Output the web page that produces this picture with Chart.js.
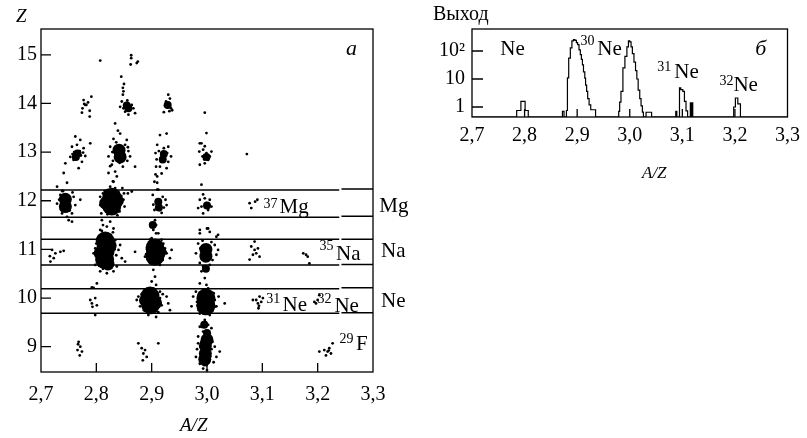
<!DOCTYPE html>
<html>
<head>
<meta charset="utf-8">
<script src="https://cdn.jsdelivr.net/npm/chart.js@4.4.0/dist/chart.umd.min.js"></script>
<style>
  html, body { margin: 0; padding: 0; background: #fff; }
  #wrap { position: relative; width: 807px; height: 438px; }
  #left { position: absolute; left: 0; top: 0; }
  #right { position: absolute; left: 420px; top: 0; }
</style>
</head>
<body>
<div id="wrap">
  <canvas id="left" width="420" height="438"></canvas>
  <canvas id="right" width="387" height="186"></canvas>
</div>
<script>
// ---- data ----
const xTicks = [2.7, 2.8, 2.9, 3.0, 3.1, 3.2, 3.3];
const zTicks = [9, 10, 11, 12, 13, 14, 15];
const yieldTicks = [1, 10, 100];
const elements = ['Mg', 'Na', 'Ne'];

// Z bands (lower / upper edge) for Mg, Na, Ne
const bandUpperZ = [12.22, 11.21, 10.19];
const bandLowerZ = [11.66, 10.68, 9.69];
const bandUpperZRight = [12.24, 11.21, 10.21];
const bandLowerZRight = [11.68, 10.69, 9.70];

// dense cluster cores [A/Z, Z]
const coresLarge = [[2.816,11.17],[2.816,10.97],[2.815,10.79],[2.828,12.07],[2.828,11.89],
  [2.906,11.03],[2.906,10.86],[2.897,10.04],[2.898,9.86],[2.998,10.0],[2.998,9.84]];
const coresMid = [[2.807,10.92],[2.825,11.08],[2.744,12.03],[2.744,11.88],[2.841,13.04],[2.843,12.9],
  [2.998,11.0],[2.998,10.86],[2.997,9.02],[2.997,8.86],[2.996,8.74],[3.0,9.14],[2.838,12.0],
  [2.817,11.95],[2.889,9.95],[2.907,9.9],[2.915,10.95],[2.821,10.7]];
const coresSmall = [[2.922,12.96],[2.920,12.85],[2.912,11.98],[2.913,11.86],[2.766,12.97],[2.763,12.9],
  [2.855,13.96],[2.858,13.9],[3.0,11.9],[2.999,12.9],[3.0,9.28],[2.929,13.97],[2.998,10.6],
  [2.902,11.5],[2.995,9.45]];

// single events [A/Z, Z]
const dotsZ14 = [[2.807,14.88],[2.863,14.99],[2.863,14.93],[2.862,14.80],[2.873,14.83],[2.875,14.86],
  [2.777,14.07],[2.780,13.97],[2.775,13.90],[2.774,13.81],[2.788,13.85],[2.788,13.73],[2.791,14.14],
  [2.782,13.97],[2.778,13.99],[2.785,14.02],
  [2.850,14.40],[2.849,14.25],[2.848,14.18],[2.846,14.04],[2.856,14.06],[2.864,13.97],[2.867,13.90],
  [2.843,13.93],[2.852,13.83],[2.858,13.77],[2.870,13.80],[2.849,13.90],[2.860,13.87],[2.853,14.00],
  [2.861,13.93],[2.845,14.55],[2.848,14.32],
  [2.930,14.18],[2.926,14.04],[2.930,14.01],[2.924,13.95],[2.935,13.90],[2.937,13.86],[2.922,13.82],
  [2.932,13.84],[2.927,13.98],[2.933,14.10],[2.928,13.92],
  [2.996,13.81],[2.999,13.39],[2.990,13.18],[2.996,13.12]];
const dotsZ13 = [[2.762,13.32],[2.771,13.25],[2.756,13.11],[2.777,13.08],[2.759,12.84],[2.774,12.80],
  [2.768,12.67],[2.753,12.90],[2.780,12.92],[2.789,13.18],[2.744,12.77],[2.741,12.57],[2.747,12.37],
  [2.738,12.20],[2.770,13.02],[2.760,13.00],[2.772,12.93],[2.765,13.15],[2.757,12.96],[2.776,12.99],
  [2.834,13.59],[2.839,13.44],[2.831,13.27],[2.855,13.25],[2.825,13.11],[2.857,13.10],[2.861,12.91],
  [2.828,12.74],[2.834,12.60],[2.837,12.50],[2.831,12.39],[2.825,12.29],[2.870,12.70],[2.848,12.70],
  [2.822,12.91],[2.852,13.15],[2.836,13.20],[2.856,12.82],[2.830,12.82],[2.842,12.78],[2.843,13.38],
  [2.829,13.00],[2.858,13.02],
  [2.915,13.35],[2.927,13.38],[2.910,13.15],[2.930,13.11],[2.907,12.98],[2.935,12.91],[2.915,12.70],
  [2.927,12.67],[2.907,12.54],[2.910,12.37],[2.912,12.23],[2.918,12.56],[2.913,13.02],[2.928,12.98],
  [2.917,12.80],[2.930,12.80],[2.922,13.08],[2.909,12.85],
  [2.987,13.18],[2.993,13.05],[2.999,12.98],[3.005,12.91],[2.987,12.74],[2.996,12.77],[3.002,12.84],
  [2.992,12.91],[2.986,13.01],[3.008,13.01],[3.000,12.87],[2.995,12.85],
  [3.072,12.96]];
const dotsZ12 = [[2.729,12.29],[2.735,12.12],[2.759,12.08],[2.762,11.91],[2.756,11.74],[2.747,11.67],
  [2.738,11.74],[2.771,12.02],[2.729,11.94],[2.750,11.60],[2.756,11.57],[2.733,12.02],[2.757,12.17],
  [2.740,12.20],[2.752,11.80],[2.736,11.82],
  [2.822,12.57],[2.825,12.71],[2.830,12.40],[2.834,12.26],[2.807,12.08],[2.850,12.15],[2.849,12.02],
  [2.851,11.88],[2.809,11.74],[2.838,11.70],[2.807,11.91],[2.847,12.26],[2.857,12.15],[2.864,12.19],
  [2.810,11.60],[2.812,11.50],[2.807,11.40],[2.816,11.33],[2.819,11.47],[2.825,11.57],[2.831,11.43],
  [2.815,12.20],[2.842,11.78],[2.820,11.72],[2.812,12.15],[2.845,12.10],
  [2.813,12.05],[2.843,11.95],[2.816,11.82],[2.840,12.18],[2.820,12.22],[2.837,11.78],[2.812,11.95],
  [2.905,12.39],[2.910,12.23],[2.902,12.12],[2.925,12.02],[2.915,11.81],[2.905,11.81],[2.927,11.91],
  [2.908,11.98],[2.908,12.70],[2.906,11.60],[2.908,11.50],[2.903,11.40],[2.912,11.33],[2.900,11.53],
  [2.920,12.08],[2.918,11.75],[2.903,11.92],[2.922,11.86],[2.910,12.50],
  [2.990,12.33],[2.993,12.13],[2.987,12.02],[3.005,12.02],[3.002,11.81],[2.993,11.74],[3.008,11.88],
  [2.984,11.85],[2.999,11.95],[3.000,11.43],[3.005,11.36],[2.987,11.33],[3.020,11.30],[2.996,12.05],
  [3.003,11.92],[2.990,11.88],
  [3.077,11.95],[3.080,11.85],[3.087,11.98],[3.091,12.02]];
const dotsZ11 = [[2.720,10.99],[2.726,10.92],[2.717,10.75],[2.735,10.95],[2.741,10.97],[2.723,10.82],
  [2.716,10.86],
  [2.795,10.92],[2.800,11.12],[2.834,11.19],[2.840,10.99],[2.846,10.82],[2.852,10.75],[2.837,10.65],
  [2.819,10.51],[2.807,10.55],[2.801,10.30],[2.792,10.22],[2.831,10.55],[2.798,10.68],[2.843,11.09],
  [2.825,11.26],[2.804,11.26],[2.798,11.02],[2.802,10.80],[2.836,10.88],[2.830,11.35],[2.810,11.38],
  [2.826,10.62],[2.812,10.60],
  [2.803,11.05],[2.829,10.90],[2.831,11.10],[2.800,10.88],[2.806,11.25],[2.826,11.30],[2.805,10.68],
  [2.828,10.70],[2.833,11.00],[2.799,10.95],
  [2.870,10.95],[2.894,11.05],[2.921,11.12],[2.927,10.92],[2.933,10.82],[2.897,10.72],[2.915,10.68],
  [2.903,10.58],[2.908,11.33],[2.900,11.23],[2.888,10.85],[2.936,10.99],[2.906,10.44],[2.900,10.34],
  [2.908,10.27],[2.893,10.95],[2.920,10.78],[2.918,11.20],[2.896,11.15],[2.924,11.02],
  [2.892,11.00],[2.921,10.90],[2.893,10.85],[2.920,11.10],[2.897,11.20],[2.890,10.90],[2.925,10.95],
  [2.987,11.40],[3.002,11.43],[3.017,11.26],[2.984,11.12],[3.014,11.09],[2.980,10.92],[3.017,10.89],
  [2.987,10.72],[3.005,10.68],[2.993,10.65],[3.020,10.99],[2.990,10.55],[2.996,10.41],[2.987,10.30],
  [2.999,10.27],[3.008,11.15],[2.988,11.02],[3.010,10.78],[2.992,11.18],
  [3.080,11.06],[3.086,10.99],[3.089,10.92],[3.083,10.89],[3.092,11.02],[3.077,10.79],[3.095,10.85],
  [3.086,11.16],
  [3.174,10.92],[3.179,10.89],[3.182,10.85],[3.185,10.71]];
const dotsZ10 = [[2.789,9.96],[2.792,9.89],[2.798,10.00],[2.801,9.85],[2.793,9.82],[2.798,9.65],[2.795,10.21],
  [2.876,10.03],[2.879,9.83],[2.873,9.96],[2.927,10.03],[2.930,9.89],[2.933,9.75],[2.894,9.65],
  [2.908,9.61],[2.897,10.16],[2.915,10.13],[2.888,10.16],[2.912,9.71],[2.884,9.92],[2.913,9.98],
  [2.918,9.85],[2.882,10.08],[2.920,10.08],[2.886,9.75],[2.903,10.20],
  [2.884,10.00],[2.912,9.90],[2.886,9.85],[2.910,10.10],[2.890,10.12],[2.905,9.72],[2.880,9.95],
  [2.915,10.00],[2.893,9.70],
  [2.975,10.03],[2.972,9.83],[3.021,10.03],[3.017,9.83],[3.032,9.89],[2.987,9.68],[3.005,9.65],
  [2.993,10.16],[3.002,10.20],[3.014,9.96],[2.980,10.13],[2.996,9.55],[2.990,9.41],[3.002,9.45],
  [2.993,9.31],[3.005,9.27],[2.982,9.92],[3.012,10.10],[2.985,9.75],[3.010,9.74],
  [2.985,9.95],[3.011,9.90],[2.987,10.10],[3.010,10.05],[2.990,9.72],[3.006,9.70],[2.983,9.85],[3.014,9.82],
  [3.089,9.96],[3.095,10.03],[3.092,9.89],[3.098,9.92],[3.093,9.79],[3.101,10.00],[3.083,9.96],[3.094,9.84],
  [3.194,9.92],[3.200,9.96],[3.203,10.06],[3.197,9.89]];
const dotsZ9 = [[2.768,9.10],[2.771,9.00],[2.766,8.93],[2.774,8.90],[2.770,8.82],[2.767,9.05],
  [2.876,9.07],[2.882,8.97],[2.885,8.86],[2.891,8.79],[2.912,9.07],[2.888,8.93],[2.884,8.72],
  [2.984,9.07],[3.014,9.00],[3.023,8.90],[2.980,8.79],[2.987,8.65],[2.999,8.62],[3.017,8.79],
  [2.984,9.21],[3.005,9.18],[2.993,8.55],[2.987,9.41],[3.008,9.38],[3.000,8.52],[2.998,9.50],
  [3.012,8.68],[2.982,8.95],
  [2.988,9.00],[3.008,8.95],[2.990,8.80],[3.006,8.80],[2.990,9.10],[3.010,9.10],[2.995,8.62],
  [3.212,8.93],[3.218,8.90],[3.221,8.97],[3.224,8.86],[3.227,9.07],[3.215,8.82],[3.203,8.90],[3.220,8.92]];

// Ne yield histogram: [left edge A/Z, counts]
const neHist = [[2.700,0],[2.785,0.75],[2.793,1.6],[2.801,0.75],[2.807,0],
  [2.872,0.7],[2.875,0],[2.8796,0.75],[2.8815,11],[2.8839,56],[2.887,130],[2.890,230],[2.893,253],
  [2.8957,240],[2.8985,200],[2.9008,168],[2.9035,110],[2.906,74],[2.908,50],[2.910,32],[2.912,18],
  [2.9145,10.8],[2.916,6],[2.918,3.6],[2.920,2],[2.9227,1.2],[2.9258,0.8],[2.935,0],
  [2.979,0.7],[2.9808,1.5],[2.9833,3.6],[2.987,25],[2.9908,64],[2.9946,140],[2.9975,230],[3.000,210],
  [3.0025,140],[3.005,80],[3.008,40],[3.011,20],[3.0135,10],[3.016,4],[3.019,2],[3.0215,1.1],
  [3.024,0.66],[3.026,0],[3.031,0.65],[3.0415,0],
  [3.0875,0.7],[3.0895,0],[3.0946,4.8],[3.097,4.2],[3.1009,3.6],[3.104,1.6],[3.107,0.73],[3.110,0],
  [3.1152,1.4],[3.1165,0],[3.1184,1.4],[3.1198,0],
  [3.1977,1.0],[3.2009,2.1],[3.2055,1.3],[3.2105,0],[3.300,0]];

// ---- drawing ----
const FONT = '"Liberation Serif", "Times New Roman", serif';
const toXY = arr => arr.map(([x, y]) => ({ x, y }));
const fmtAZ = v => Number(v).toFixed(1).replace('.', ',');

function bandData(zs, x0, x1) {
  const out = [];
  zs.forEach(z => { out.push({ x: x0, y: z }, { x: x1, y: z }, { x: x1, y: null }); });
  return out;
}

function panelPlugin(cfg) {
  return {
    id: 'panel_' + cfg.name,
    afterDraw(chart) {
      const { ctx, chartArea: a, scales: { x, y } } = chart;
      ctx.save();
      ctx.strokeStyle = '#000';
      ctx.lineWidth = 1.3;
      ctx.strokeRect(a.left, a.top, a.right - a.left, a.bottom - a.top);
      ctx.beginPath();
      cfg.xTicks.forEach(v => {
        const px = x.getPixelForValue(v);
        ctx.moveTo(px, a.bottom); ctx.lineTo(px, a.bottom - cfg.xLen);
      });
      cfg.yTicks.forEach(v => {
        const py = y.getPixelForValue(v);
        ctx.moveTo(a.left, py); ctx.lineTo(a.left + cfg.yLen, py);
      });
      ctx.stroke();
      ctx.fillStyle = '#000';
      ctx.textAlign = 'left';
      ctx.textBaseline = 'alphabetic';
      cfg.labels.forEach(l => {
        ctx.font = (l.italic ? 'italic ' : '') + l.size + 'px ' + FONT;
        const px = l.px !== undefined ? l.px : x.getPixelForValue(l.x);
        const py = l.py !== undefined ? l.py : y.getPixelForValue(l.y);
        ctx.fillText(l.text, px, py);
      });
      ctx.restore();
    }
  };
}

const dotStyle = { pointRadius: 1.4, pointBackgroundColor: '#000', pointBorderWidth: 0, showLine: false };
const lineStyle = { showLine: true, borderColor: '#000', borderWidth: 1.5, pointRadius: 0, spanGaps: false };

const leftLabels = [
  { text: 'а', x: 3.2514, y: 15.0, size: 22, italic: true },
  { text: '37', x: 3.1023, y: 11.86, size: 14 },
  { text: 'Mg', x: 3.1311, y: 11.749, size: 21 },
  { text: '35', x: 3.2032, y: 10.99, size: 14 },
  { text: 'Na', x: 3.2333, y: 10.782, size: 21 },
  { text: '31', x: 3.1072, y: 9.90, size: 14 },
  { text: 'Ne', x: 3.1366, y: 9.733, size: 21 },
  { text: '32', x: 3.1996, y: 9.90, size: 14 },
  { text: 'Ne', x: 3.2303, y: 9.718, size: 21 },
  { text: '29', x: 3.2393, y: 9.074, size: 14 },
  { text: 'F', x: 3.2694, y: 8.93, size: 21 },
  { text: elements[0], x: 3.3114, y: 11.776, size: 21 },
  { text: elements[1], x: 3.3144, y: 10.837, size: 21 },
  { text: elements[2], x: 3.3144, y: 9.821, size: 21 },
  { text: 'Z', px: 16, py: 22, size: 19, italic: true },
  { text: 'A/Z', px: 180, py: 431, size: 19, italic: true }
];

new Chart(document.getElementById('left'), {
  type: 'scatter',
  data: {
    datasets: [
      { ...lineStyle, data: bandData(bandUpperZ.concat(bandLowerZ), 2.7, 3.239) },
      { ...lineStyle, data: bandData(bandUpperZRight.concat(bandLowerZRight), 3.243, 3.3) },
      { ...dotStyle, pointRadius: 9.5, data: toXY(coresLarge) },
      { ...dotStyle, pointRadius: 6.5, data: toXY(coresMid) },
      { ...dotStyle, pointRadius: 4, data: toXY(coresSmall) },
      { ...dotStyle, data: toXY(dotsZ14) },
      { ...dotStyle, data: toXY(dotsZ13) },
      { ...dotStyle, data: toXY(dotsZ12) },
      { ...dotStyle, data: toXY(dotsZ11) },
      { ...dotStyle, data: toXY(dotsZ10) },
      { ...dotStyle, data: toXY(dotsZ9) }
    ]
  },
  options: {
    responsive: false,
    animation: false,
    events: [],
    layout: { padding: { top: 29, right: 47, left: 0, bottom: 0 } },
    plugins: { legend: { display: false }, tooltip: { enabled: false } },
    scales: {
      x: {
        type: 'linear', min: 2.7, max: 3.3,
        grid: { display: false, drawTicks: false },
        border: { display: false },
        afterBuildTicks: s => { s.ticks = xTicks.map(v => ({ value: v })); },
        afterFit: s => { s.height = 66; },
        ticks: { padding: 11, color: '#000', autoSkip: false, maxRotation: 0,
          font: { family: FONT, size: 20 }, callback: v => fmtAZ(v) }
      },
      y: {
        type: 'linear', min: 8.48, max: 15.53,
        grid: { display: false, drawTicks: false },
        border: { display: false },
        afterBuildTicks: s => { s.ticks = zTicks.map(v => ({ value: v })); },
        afterFit: s => { s.width = 41; },
        ticks: { padding: 4, color: '#000', autoSkip: false,
          font: { family: FONT, size: 20 }, callback: v => String(v) }
      }
    }
  },
  plugins: [panelPlugin({ name: 'a', xTicks: xTicks.slice(1, -1), yTicks: zTicks, xLen: 9, yLen: 10, labels: leftLabels })]
});

const yieldMin = 0.44;
const rightLabels = [
  { text: 'Ne', x: 2.7538, y: 73.8, size: 21 },
  { text: '30', x: 2.9064, y: 168, size: 14 },
  { text: 'Ne', x: 2.9383, y: 73.8, size: 21 },
  { text: '31', x: 3.0522, y: 18.7, size: 14 },
  { text: 'Ne', x: 3.0846, y: 10.9, size: 21 },
  { text: '32', x: 3.1709, y: 6.26, size: 14 },
  { text: 'Ne', x: 3.1972, y: 3.61, size: 21 },
  { text: 'б', x: 3.2385, y: 73.8, size: 22, italic: true },
  { text: 'Выход', px: 13, py: 20, size: 20 },
  { text: 'A/Z', px: 222, py: 178, size: 17, italic: true }
];

new Chart(document.getElementById('right'), {
  type: 'line',
  data: {
    datasets: [{
      data: neHist.map(([x, c]) => ({ x, y: Math.max(c, yieldMin) })),
      stepped: true,
      borderColor: '#000',
      borderWidth: 1.2,
      pointRadius: 0,
      fill: false
    }]
  },
  options: {
    responsive: false,
    animation: false,
    events: [],
    layout: { padding: { top: 29, right: 14, left: 0, bottom: 0 } },
    plugins: { legend: { display: false }, tooltip: { enabled: false } },
    scales: {
      x: {
        type: 'linear', min: 2.7, max: 3.3,
        grid: { display: false, drawTicks: false },
        border: { display: false },
        afterBuildTicks: s => { s.ticks = xTicks.map(v => ({ value: v })); },
        afterFit: s => { s.height = 69; },
        ticks: { padding: 7, color: '#000', autoSkip: false, maxRotation: 0,
          font: { family: FONT, size: 20 }, callback: v => fmtAZ(v) }
      },
      y: {
        type: 'logarithmic', min: yieldMin, max: 610,
        grid: { display: false, drawTicks: false },
        border: { display: false },
        afterBuildTicks: s => { s.ticks = yieldTicks.map(v => ({ value: v })); },
        afterFit: s => { s.width = 52; },
        ticks: { padding: 7, color: '#000', autoSkip: false,
          font: { family: FONT, size: 20 }, callback: v => (v === 100 ? '10²' : String(v)) }
      }
    }
  },
  plugins: [panelPlugin({ name: 'b', xTicks: xTicks.slice(1, -1), yTicks: yieldTicks, xLen: 8, yLen: 11, labels: rightLabels })]
});
</script>
</body>
</html>
